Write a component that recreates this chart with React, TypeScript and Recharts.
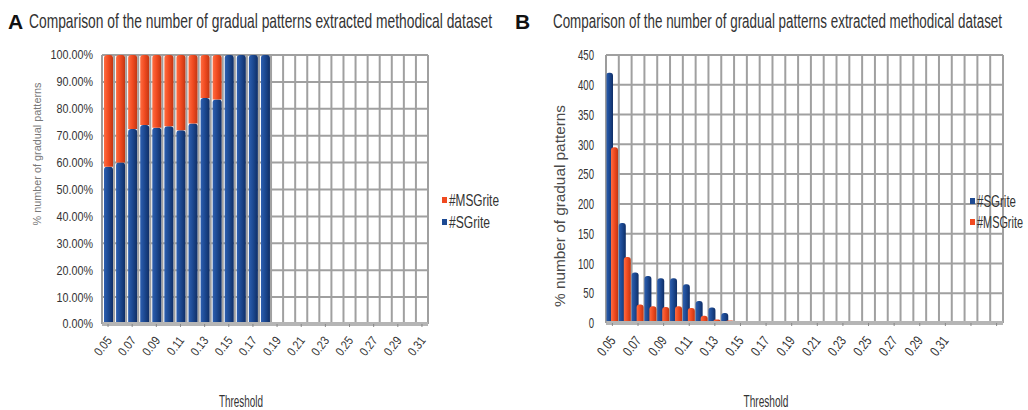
import React from 'react';
import { BarChart, Bar, XAxis, YAxis, CartesianGrid } from 'recharts';

// ---------- Panel A data (percent share) ----------
const categoriesA = ['0.05','0.06','0.07','0.08','0.09','0.10','0.11','0.12','0.13','0.14','0.15','0.16','0.17','0.18','0.19','0.20','0.21','0.22','0.23','0.24','0.25','0.26','0.27','0.28','0.29','0.30','0.31'];
const sgritePctA = [58.5, 60, 72.5, 74, 73, 73.5, 72, 74.5, 84, 83.5, 100, 100, 100, 100, 0, 0, 0, 0, 0, 0, 0, 0, 0, 0, 0, 0, 0];
const msgritePctA = [41.5, 40, 27.5, 26, 27, 26.5, 28, 25.5, 16, 16.5, 0, 0, 0, 0, 0, 0, 0, 0, 0, 0, 0, 0, 0, 0, 0, 0, 0];
const yTicksA = [0, 10, 20, 30, 40, 50, 60, 70, 80, 90, 100];

// ---------- Panel B data (counts) ----------
const categoriesB = ['0.05','0.06','0.07','0.08','0.09','0.10','0.11','0.12','0.13','0.14','0.15','0.16','0.17','0.18','0.19','0.20','0.21','0.22','0.23','0.24','0.25','0.26','0.27','0.28','0.29','0.30','0.31','0.32','0.33','0.34','0.35'];
const sgriteB = [420, 168, 85, 79, 75, 75, 65, 37, 26, 17, 3, 2, 2, 2, 0, 0, 0, 0, 0, 0, 0, 0, 0, 0, 0, 0, 0, 0, 0, 0, 0];
const msgriteB = [295, 111, 31, 28, 27, 28, 25, 12, 6, 4, 0, 0, 0, 0, 0, 0, 0, 0, 0, 0, 0, 0, 0, 0, 0, 0, 0, 0, 0, 0, 0];
const yTicksB = [0, 50, 100, 150, 200, 250, 300, 350, 400, 450];

const maxLabel = 0.31;
const titleText = 'Comparison of the number of gradual patterns extracted methodical dataset';
const yTitle = '% number of gradual patterns';
const xTitle = 'Threshold';
const seriesNames = { sg: '#SGrite', ms: '#MSGrite' };

const dataA = categoriesA.map((c, i) => ({ t: c, sg: sgritePctA[i], ms: msgritePctA[i] }));
const dataB = categoriesB.map((c, i) => ({ t: c, sg: sgriteB[i], ms: msgriteB[i] }));

const BLUE = '#1d4a93';
const RED = '#f04a20';
const FONT = '"Liberation Sans", Arial, sans-serif';

const CText = (p: any) => {
  const { x, y, s = 1, size, anchor = 'start', len, fill = '#333', weight = 'normal', rotate = 0, dy, children } = p;
  return (
    <g transform={`translate(${x},${y}) rotate(${rotate}) scale(${s},1)`}>
      <text
        textAnchor={anchor}
        dy={dy}
        fontSize={size}
        fontWeight={weight}
        fill={fill}
        fontFamily={FONT}
        textLength={len ? len / s : undefined}
        lengthAdjust={len ? 'spacingAndGlyphs' : undefined}
      >
        {children}
      </text>
    </g>
  );
};

const makeXTick = (size: number, s: number, dx: number, dyOff: number) => (props: any) => {
  const { x, y, payload } = props;
  if (parseFloat(payload.value) > maxLabel + 1e-6) return <g />;
  return (
    <g transform={`translate(${x + dx},${y + dyOff}) rotate(-52)`}>
      <text textAnchor="end" dy="0.35em" fontSize={size} fill="#333" fontFamily={FONT} transform={`scale(${s},1)`}>
        {payload.value}
      </text>
    </g>
  );
};
const XTickA = makeXTick(12.5, 0.84, 1, 9);
const XTickB = makeXTick(14, 0.74, 0, 10);

const YTickA = (props: any) => {
  const { x, y, payload } = props;
  return (
    <g transform={`translate(${x - 1},${y})`}>
      <text textAnchor="end" dy="0.35em" fontSize={12.8} fill="#333" fontFamily={FONT} transform="scale(0.84,1)">
        {`${Number(payload.value).toFixed(2)}%`}
      </text>
    </g>
  );
};

const YTickB = (props: any) => {
  const { x, y, payload } = props;
  return (
    <g transform={`translate(${x - 4},${y})`}>
      <text textAnchor="end" dy="0.35em" fontSize={15} fill="#333" fontFamily={FONT} transform="scale(0.64,1)">
        {payload.value}
      </text>
    </g>
  );
};

const bandGrid = (n: number) => (args: any) => {
  const off = args.offset;
  const xs: number[] = [];
  for (let i = 0; i <= n; i++) xs.push(off.left + (off.width * i) / n);
  return xs;
};

const Defs = () => (
  <defs>
    <linearGradient id="gBlue" x1="0" y1="0" x2="1" y2="0">
      <stop offset="0%" stopColor="#2d5fb0" />
      <stop offset="45%" stopColor="#1d4a93" />
      <stop offset="100%" stopColor="#0f2e66" />
    </linearGradient>
    <linearGradient id="gRed" x1="0" y1="0" x2="1" y2="0">
      <stop offset="0%" stopColor="#ff6c40" />
      <stop offset="50%" stopColor="#f04a20" />
      <stop offset="100%" stopColor="#c23612" />
    </linearGradient>
  </defs>
);

export default function App() {
  return (
    <div style={{ position: 'absolute', left: 0, top: 0, width: 1028, height: 410, background: '#fff', overflow: 'hidden' }}>
      <div style={{ position: 'absolute', left: 0, top: 0 }}>
        <BarChart width={510} height={410} data={dataA} margin={{ top: 55, right: 82, bottom: 41, left: 42 }} barSize={9}>
          <Defs />
          <CartesianGrid stroke="#a0a0a0" strokeWidth={2} verticalCoordinatesGenerator={bandGrid(categoriesA.length)} />
          <XAxis dataKey="t" interval={1} height={45} tick={<XTickA />} axisLine={{ stroke: '#b5b5b5', strokeWidth: 4 }} tickLine={{ stroke: '#888' }} tickSize={3} />
          <YAxis width={60} domain={[0, 100]} ticks={yTicksA} tick={<YTickA />} axisLine={{ stroke: '#999' }} tickLine={false} />
          <Bar dataKey="sg" name={seriesNames.sg} stackId="a" fill="url(#gBlue)" isAnimationActive={false} radius={[3, 3, 0, 0]} />
          <Bar dataKey="ms" name={seriesNames.ms} stackId="a" fill="url(#gRed)" isAnimationActive={false} radius={[3, 3, 0, 0]} />
        </BarChart>
      </div>
      <div style={{ position: 'absolute', left: 510, top: 0 }}>
        <BarChart width={518} height={410} data={dataB} margin={{ top: 55, right: 25, bottom: 42, left: 46 }} barSize={7} barGap={-2}>
          <Defs />
          <CartesianGrid stroke="#a0a0a0" strokeWidth={2} verticalCoordinatesGenerator={bandGrid(categoriesB.length)} />
          <XAxis dataKey="t" interval={1} height={45} tick={<XTickB />} axisLine={{ stroke: '#b5b5b5', strokeWidth: 4 }} tickLine={{ stroke: '#888' }} tickSize={3} />
          <YAxis width={50} domain={[0, 450]} ticks={yTicksB} tick={<YTickB />} axisLine={{ stroke: '#999' }} tickLine={false} />
          <Bar dataKey="sg" name={seriesNames.sg} fill="url(#gBlue)" isAnimationActive={false} radius={[3, 3, 0, 0]} />
          <Bar dataKey="ms" name={seriesNames.ms} fill="url(#gRed)" isAnimationActive={false} radius={[3, 3, 0, 0]} />
        </BarChart>
      </div>
      <svg width={1028} height={410} style={{ position: 'absolute', left: 0, top: 0, pointerEvents: 'none' }}>
        <text x={8} y={29} fontSize={21} fontWeight="bold" fill="#111" fontFamily={FONT}>A</text>
        <CText x={29} y={28} size={21} s={0.62} len={463}>{titleText}</CText>
        <text x={515} y={29} fontSize={21} fontWeight="bold" fill="#111" fontFamily={FONT}>B</text>
        <CText x={553} y={28} size={21} s={0.6} len={449}>{titleText}</CText>

        <CText x={37} y={154} rotate={-90} anchor="middle" dy="0.35em" size={11} fill="#777" len={143}>{yTitle}</CText>
        <CText x={560} y={206} rotate={-90} anchor="middle" dy="0.35em" size={15} fill="#4a4a4a" len={202}>{yTitle}</CText>

        <CText x={241} y={407} anchor="middle" size={16} s={0.62} len={44}>{xTitle}</CText>
        <CText x={766} y={407} anchor="middle" size={16} s={0.62} len={45}>{xTitle}</CText>

        {/* Legend A */}
        <rect x={442} y={197} width={5} height={6} fill={RED} />
        <CText x={449} y={200} dy="0.35em" size={16} s={0.75} len={50}>{seriesNames.ms}</CText>
        <rect x={442} y={219} width={5} height={6} fill={BLUE} />
        <CText x={449} y={222} dy="0.35em" size={16} s={0.75} len={41}>{seriesNames.sg}</CText>
        {/* Legend B */}
        <rect x={970} y={198} width={5} height={6} fill={BLUE} />
        <CText x={977} y={201} dy="0.35em" size={16} s={0.72} len={39}>{seriesNames.sg}</CText>
        <rect x={970} y={219} width={5} height={6} fill={RED} />
        <CText x={977} y={222} dy="0.35em" size={16} s={0.72} len={46}>{seriesNames.ms}</CText>
      </svg>
    </div>
  );
}
